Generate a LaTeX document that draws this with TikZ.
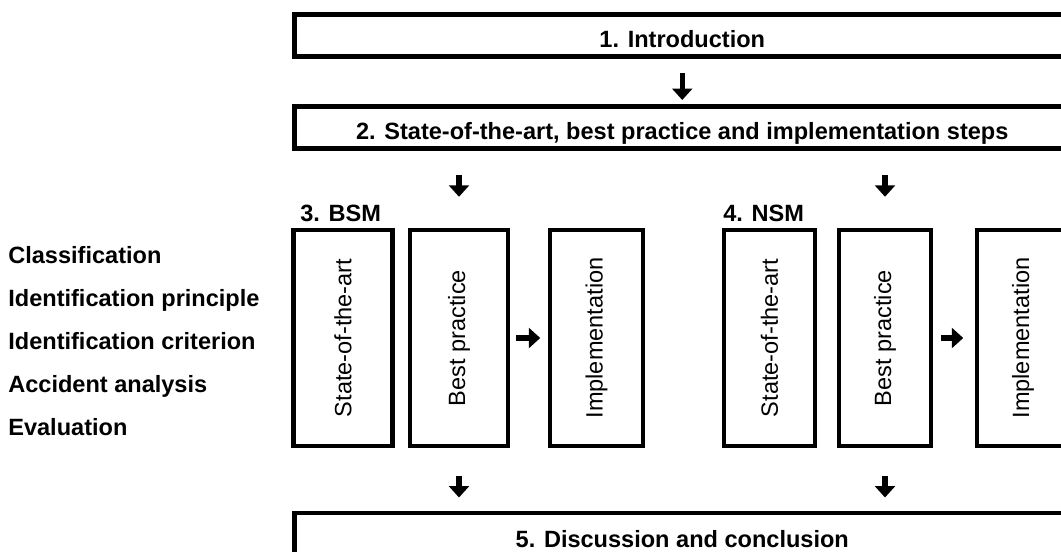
\documentclass[tikz,border=0pt]{standalone}
\usepackage{fontspec}
\setmainfont{Liberation Sans}
\usepackage{graphicx}
\usetikzlibrary{arrows.meta}
\def\px{0.02cm}
\def\bigfont{\fontsize{13.4}{16}\selectfont}
\tikzset{
  wbox/.style={draw, line width=4.5*\px, anchor=north west, inner sep=0pt,
    minimum width=776*\px, font=\bigfont\bfseries, text height=0.48cm, text depth=0pt},
  vbox/.style={draw, line width=4.5*\px, inner sep=0pt, minimum height=216*\px},
  side/.style={anchor=base west, inner sep=0pt, font=\bigfont\bfseries},
  flow/.style={line width=0.11cm, -{Triangle[width=0.4cm,length=0.23cm]}}
}
\begin{document}
\begin{tikzpicture}[x=0.02cm, y=-0.02cm, font=\bigfont, line join=miter]
\useasboundingbox (0,0) rectangle (1061,551);
\clip (0,0) rectangle (1061,551);
% main chapters
\node[wbox, minimum height=42*\px] (intro) at (292,12) {1. Introduction};
\node[wbox, minimum height=42*\px] (sota) at (292,104) {2. State-of-the-art, best practice and implementation steps};
\node[wbox, minimum height=56*\px, text height=0.26cm] (concl) at (292,510.5) {5. Discussion and conclusion};
% BSM
\node[side] (bsm) at (300,221) {3. BSM};
\node[vbox, minimum width=99*\px] (bsmsota) at (343,338) {\rotatebox{90}{State-of-the-art}};
\node[vbox, minimum width=98*\px] (bsmbest) at (459,338) {\rotatebox{90}{Best practice}};
\node[vbox, minimum width=93*\px] (bsmimpl) at (596.5,338) {\rotatebox{90}{Implementation}};
% NSM
\node[side] (nsm) at (723,221) {4. NSM};
\node[vbox, minimum width=91*\px] (nsmsota) at (769.5,338) {\rotatebox{90}{State-of-the-art}};
\node[vbox, minimum width=92*\px] (nsmbest) at (885,338) {\rotatebox{90}{Best practice}};
\node[vbox, minimum width=92*\px] (nsmimpl) at (1023,338) {\rotatebox{90}{Implementation}};
% topics
\node[side] (topic1) at (8,263.5) {Classification};
\node[side] (topic2) at (8,306.5) {Identification principle};
\node[side] (topic3) at (8,349) {Identification criterion};
\node[side] (topic4) at (8,392) {Accident analysis};
\node[side] (topic5) at (8,435) {Evaluation};
% arrows
\draw[flow, shorten <=0.3cm, shorten >=0.08cm] (intro.south) -- (sota.north);
\draw[flow, shorten <=0.5cm, shorten >=0.62cm] (sota.south -| bsmbest.north) -- (bsmbest.north);
\draw[flow, shorten <=0.5cm, shorten >=0.62cm] (sota.south -| nsmbest.north) -- (nsmbest.north);
\draw[flow, shorten <=0.12cm, shorten >=0.15cm] (bsmbest.east) -- (bsmimpl.west);
\draw[flow, shorten <=0.16cm, shorten >=0.23cm] (nsmbest.east) -- (nsmimpl.west);
\draw[flow, shorten <=0.56cm, shorten >=0.26cm] (bsmbest.south) -- (bsmbest.south |- concl.north);
\draw[flow, shorten <=0.56cm, shorten >=0.26cm] (nsmbest.south) -- (nsmbest.south |- concl.north);
\end{tikzpicture}
\end{document}
